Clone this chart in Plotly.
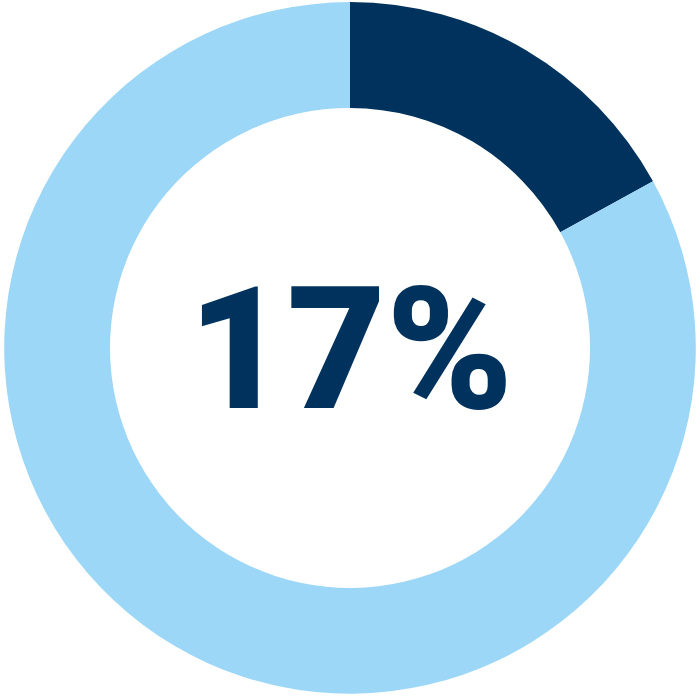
import plotly.graph_objects as go

# share of the ring
labels = ["Yes", "No"]
values = [17, 83]
colors = ["#00325E", "#9DD7F8"]
center_text = "17%"

fig = go.Figure()
fig.add_trace(
    go.Pie(
        labels=labels,
        values=values,
        hole=0.694,
        sort=False,
        direction="clockwise",
        rotation=0,
        marker=dict(colors=colors, line=dict(width=0)),
        textinfo="none",
        hoverinfo="label+percent",
        showlegend=False,
        domain=dict(x=[0.006, 0.994], y=[0.009, 0.997]),
    )
)

fig.add_annotation(
    text=center_text,
    x=0.5, y=0.501, xref="paper", yref="paper",
    xanchor="center", yanchor="middle",
    showarrow=False,
    font=dict(family="Roboto", size=171, color="#00325E", weight=900),
)

fig.update_layout(
    width=700, height=700,
    margin=dict(l=0, r=0, t=0, b=0),
    paper_bgcolor="white",
    plot_bgcolor="white",
)

# drop the page margin so the figure sits at the window corner
fig.write_html("out.html", config={"displayModeBar": False},
               post_script="document.body.style.margin='0';")
